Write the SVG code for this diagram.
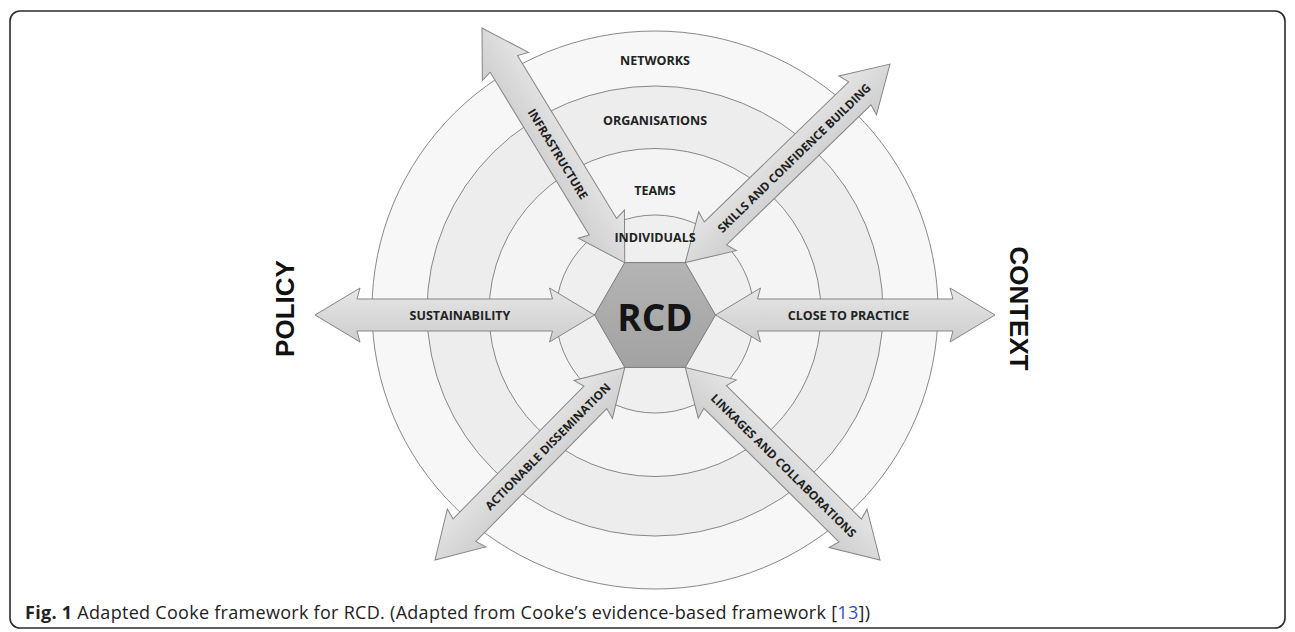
<svg xmlns="http://www.w3.org/2000/svg" width="1295" height="632" viewBox="0 0 1295 632">
  <defs>
    <linearGradient id="arrowGrad" x1="0" y1="0" x2="0" y2="1">
      <stop offset="0" stop-color="#e6e6e6"/>
      <stop offset="1" stop-color="#cdcdcd"/>
    </linearGradient>
    <linearGradient id="hexGrad" x1="0" y1="0" x2="0" y2="1">
      <stop offset="0" stop-color="#b4b4b4"/>
      <stop offset="1" stop-color="#a2a2a2"/>
    </linearGradient>
  </defs>
  <style>
    .ring { stroke: #7a7a7a; stroke-width: 0.9; }
    .arrow { fill: url(#arrowGrad); stroke: #858585; stroke-width: 1; }
    .lbl { font-family: "Open Sans", "Liberation Sans", sans-serif; font-weight: 700; font-size: 12.5px; fill: #222; text-anchor: middle; dominant-baseline: central; }
    .dlbl { font-family: "Open Sans", "Liberation Sans", sans-serif; font-weight: 700; font-size: 11.8px; fill: #1e1e1e; text-anchor: middle; dominant-baseline: central; }
    .side { font-family: "Liberation Sans", Arial, sans-serif; font-weight: 700; font-size: 26px; fill: #111; text-anchor: middle; dominant-baseline: central; }
    .cap { font-family: "Open Sans", "Liberation Sans", sans-serif; font-size: 18px; fill: #222; }
  </style>
  <rect x="10" y="11" width="1275" height="617" rx="10" ry="10" fill="#ffffff" stroke="#2b2b2b" stroke-width="1.6"/>

  <g id="rings">
    <ellipse id="ring-networks" class="ring" cx="655" cy="310" rx="283" ry="279" fill="#f7f7f7"/>
    <ellipse id="ring-organisations" class="ring" cx="655" cy="311" rx="228" ry="225" fill="#ededed"/>
    <ellipse id="ring-teams" class="ring" cx="655" cy="312.5" rx="166" ry="164" fill="#f4f4f4"/>
    <ellipse id="ring-individuals" class="ring" cx="655" cy="314" rx="99" ry="99" fill="#efefef"/>
  </g>

  <g id="connectors">
    <g id="arrow-sustainability" transform="translate(315,315)">
      <path class="arrow" d="M0,0 L45,-27 L42,-16 L237.5,-16 L234.5,-27 L279.5,0 L234.5,27 L237.5,16 L42,16 L45,27 Z"/>
      <text class="lbl" x="145" y="0">SUSTAINABILITY</text>
    </g>
    <g id="arrow-close-to-practice" transform="translate(715.5,315)">
      <path class="arrow" d="M0,0 L45,-27 L42,-16 L237.5,-16 L234.5,-27 L279.5,0 L234.5,27 L237.5,16 L42,16 L45,27 Z"/>
      <text class="lbl" x="133" y="0">CLOSE TO PRACTICE</text>
    </g>
    <g id="arrow-infrastructure" transform="translate(482,28) rotate(58.68)">
      <path class="arrow" d="M0,0 L45,-27 L42,-16 L232.6,-16 L229.6,-27 L274.6,0 L229.6,27 L232.6,16 L42,16 L45,27 Z"/>
      <text class="dlbl" x="147" y="0">INFRASTRUCTURE</text>
    </g>
    <g id="arrow-skills" transform="translate(685.25,262.6) rotate(-44.12)">
      <path class="arrow" d="M0,0 L45,-27 L42,-16 L243.2,-16 L240.2,-27 L285.2,0 L240.2,27 L243.2,16 L42,16 L45,27 Z"/>
      <text class="dlbl" x="151" y="0">SKILLS AND CONFIDENCE BUILDING</text>
    </g>
    <g id="arrow-actionable" transform="translate(435,560) rotate(-45.42)">
      <path class="arrow" d="M0,0 L45,-27 L42,-16 L228.4,-16 L225.4,-27 L270.4,0 L225.4,27 L228.4,16 L42,16 L45,27 Z"/>
      <text class="dlbl" x="160" y="0">ACTIONABLE DISSEMINATION</text>
    </g>
    <g id="arrow-linkages" transform="translate(685.25,367.4) rotate(44.68)">
      <path class="arrow" d="M0,0 L45,-27 L42,-16 L231.9,-16 L228.9,-27 L273.9,0 L228.9,27 L231.9,16 L42,16 L45,27 Z"/>
      <text class="dlbl" x="139" y="0">LINKAGES AND COLLABORATIONS</text>
    </g>
  </g>

  <g id="ring-labels">
    <text class="lbl" x="655" y="60">NETWORKS</text>
    <text class="lbl" x="655" y="120">ORGANISATIONS</text>
    <text class="lbl" x="655" y="190">TEAMS</text>
    <text class="lbl" x="655" y="237">INDIVIDUALS</text>
  </g>

  <g id="node-rcd">
    <polygon points="715.5,315 685.25,367.4 624.75,367.4 594.5,315 624.75,262.6 685.25,262.6" fill="url(#hexGrad)" stroke="#7a7a7a" stroke-width="1"/>
    <text x="655" y="316" font-family="'Open Sans', 'Liberation Sans', sans-serif" font-weight="700" font-size="37" fill="#151515" text-anchor="middle" dominant-baseline="central">RCD</text>
  </g>

  <g id="node-policy">
    <text class="side" transform="translate(285,308.5) rotate(-90)">POLICY</text>
  </g>
  <g id="node-context">
    <text class="side" transform="translate(1018.5,308.5) rotate(90)">CONTEXT</text>
  </g>

  <text class="cap" x="25" y="619" textLength="845" lengthAdjust="spacing"><tspan font-weight="700">Fig. 1</tspan> Adapted Cooke framework for RCD. (Adapted from Cooke’s evidence-based framework [<tspan fill="#2f4fd8">13</tspan>])</text>
</svg>
